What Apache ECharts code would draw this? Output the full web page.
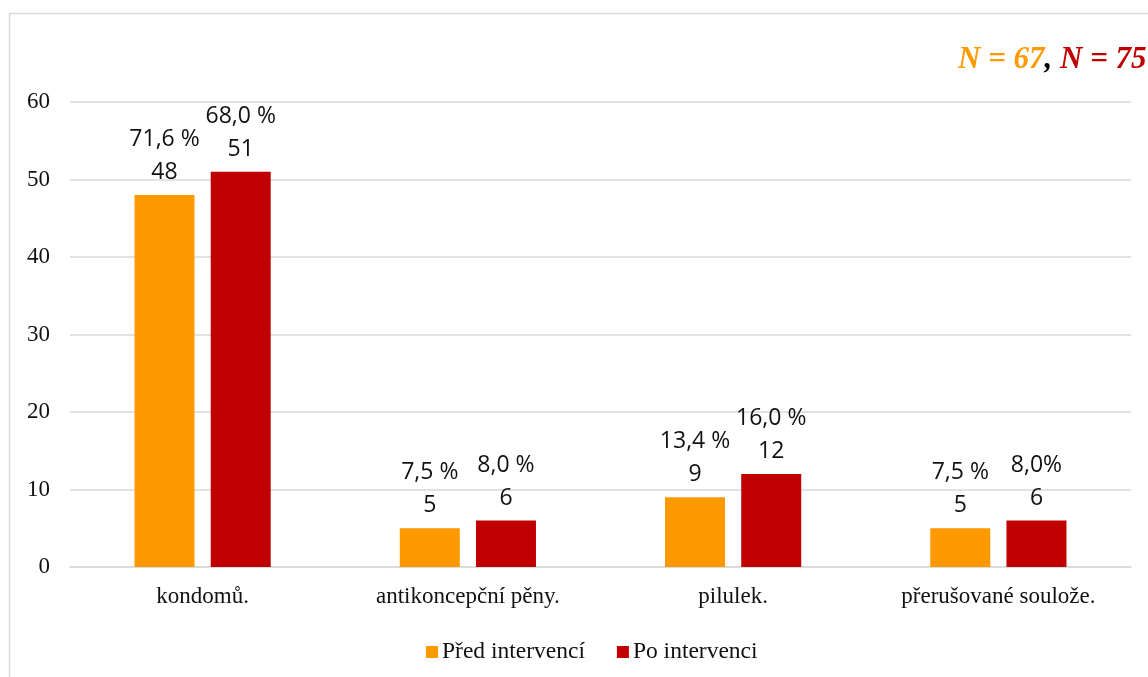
<!DOCTYPE html>
<html>
<head>
<meta charset="utf-8">
<script src="https://cdn.jsdelivr.net/npm/echarts@6/dist/echarts.min.js"></script>
<style>
  html, body { margin: 0; padding: 0; background: #fff; }
  #chart { width: 1148px; height: 677px; }
</style>
</head>
<body>
<div id="chart"></div>
<script>
// Methods of contraception named by respondents, before and after the intervention
const categories = ['kondomů.', 'antikoncepční pěny.', 'pilulek.', 'přerušované soulože.'];
const seriesNames = ['Před intervencí', 'Po intervenci'];
const beforeValues = [48, 5, 9, 5];
const afterValues = [51, 6, 12, 6];
const beforePercent = ['71,6 %', '7,5 %', '13,4 %', '7,5 %'];
const afterPercent = ['68,0 %', '8,0 %', '16,0 %', '8,0%'];
const yTicks = [0, 10, 20, 30, 40, 50, 60];

const ORANGE = '#FF9900';
const RED = '#C00000';
const GRID = '#D9D9D9';
const SERIF = '"Liberation Serif", "Times New Roman", serif';
const SANS = '"Open Sans", "Liberation Sans", sans-serif';

const chart = echarts.init(document.getElementById('chart'), null, { renderer: 'canvas' });

function barLabel(pcts) {
  return {
    show: true,
    position: 'top',
    distance: 6,
    fontFamily: SANS,
    fontSize: 23,
    lineHeight: 33,
    color: '#111',
    formatter: p => pcts[p.dataIndex] + '\n' + p.value
  };
}

chart.setOption({
  animation: false,
  backgroundColor: '#fff',
  graphic: [{
    type: 'rect',
    silent: true,
    shape: { x: 9.5, y: 13.5, width: 1300, height: 800 },
    style: { fill: 'none', stroke: GRID, lineWidth: 1.5 }
  }],
  title: {
    text: '{o|N = 67}{k|, }{r|N = 75}',
    left: 953,
    top: 39,
    textStyle: {
      rich: {
        o: { fontFamily: SERIF, fontStyle: 'italic', fontWeight: 'bold', fontSize: 31, color: ORANGE },
        k: { fontFamily: SERIF, fontStyle: 'italic', fontWeight: 'bold', fontSize: 31, color: '#000' },
        r: { fontFamily: SERIF, fontStyle: 'italic', fontWeight: 'bold', fontSize: 31, color: RED }
      }
    }
  },
  legend: {
    data: seriesNames,
    left: 421,
    top: 635,
    icon: 'rect',
    itemWidth: 12,
    itemHeight: 12,
    itemGap: 32,
    textStyle: { fontFamily: SERIF, fontSize: 23.5, color: '#111', padding: [0, 0, 0, -1] }
  },
  grid: { left: 70, right: 17, top: 102, bottom: 110 },
  xAxis: {
    type: 'category',
    data: categories,
    axisLine: { lineStyle: { color: GRID, width: 1.5 } },
    axisTick: { show: false },
    axisLabel: { fontFamily: SERIF, fontSize: 23, color: '#111', margin: 18 }
  },
  yAxis: {
    type: 'value',
    min: yTicks[0],
    max: yTicks[yTicks.length - 1],
    interval: yTicks[1] - yTicks[0],
    axisLine: { show: false },
    axisTick: { show: false },
    splitLine: { lineStyle: { color: GRID, width: 1.5 } },
    axisLabel: { fontFamily: SERIF, fontSize: 23, color: '#111', margin: 20, padding: [3, 0, 0, 0] }
  },
  series: [
    {
      name: seriesNames[0],
      type: 'bar',
      data: beforeValues,
      itemStyle: { color: ORANGE },
      barWidth: 60,
      barGap: '27%',
      label: barLabel(beforePercent)
    },
    {
      name: seriesNames[1],
      type: 'bar',
      data: afterValues,
      itemStyle: { color: RED },
      barWidth: 60,
      barGap: '27%',
      label: barLabel(afterPercent)
    }
  ]
});
</script>
</body>
</html>
